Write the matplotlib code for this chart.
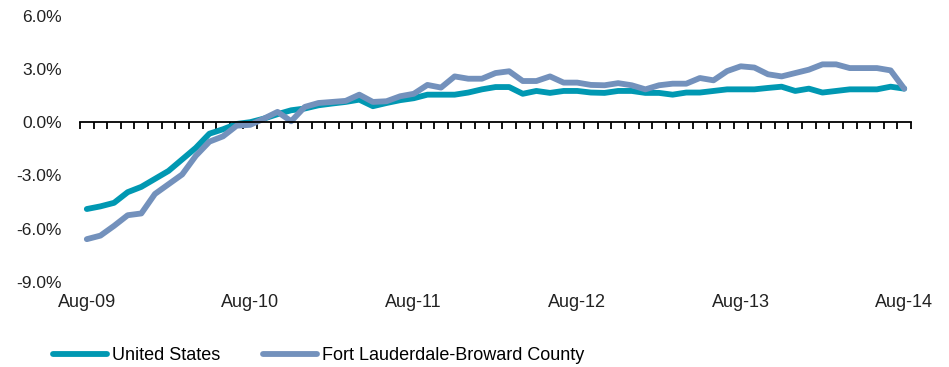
import matplotlib.pyplot as plt
import numpy as np

plt.rcParams['font.family'] = ['Liberation Sans', 'DejaVu Sans']

# monthly year-over-year employment growth, Aug-09 .. Aug-14 (%)
us = [-4.9, -4.75, -4.55, -3.95, -3.65, -3.2, -2.75, -2.1, -1.45, -0.65, -0.4, -0.1, 0.0,
      0.2, 0.45, 0.67, 0.77, 0.95, 1.05, 1.14, 1.27, 0.9, 1.08, 1.24, 1.35,
      1.55, 1.55, 1.55, 1.67, 1.85, 1.98, 1.98, 1.6, 1.76, 1.65, 1.76, 1.76, 1.67,
      1.65, 1.76, 1.76, 1.65, 1.65, 1.55, 1.67, 1.67, 1.76, 1.85, 1.85, 1.85,
      1.93, 2.0, 1.76, 1.89, 1.67, 1.76, 1.85, 1.85, 1.85, 2.0, 1.89]
fl = [-6.6, -6.4, -5.85, -5.25, -5.15, -4.05, -3.5, -2.95, -1.9, -1.1, -0.8, -0.2, -0.15,
      0.2, 0.58, 0.05, 0.86, 1.08, 1.14, 1.2, 1.55, 1.14, 1.18, 1.46, 1.6,
      2.1, 1.95, 2.58, 2.45, 2.45, 2.77, 2.87, 2.32, 2.32, 2.58, 2.23, 2.23, 2.1,
      2.08, 2.2, 2.08, 1.85, 2.08, 2.17, 2.17, 2.49, 2.36, 2.88, 3.15, 3.08,
      2.7, 2.58, 2.77, 2.96, 3.26, 3.26, 3.05, 3.05, 3.05, 2.92, 1.89]
tick_labels = ['Aug-09', 'Aug-10', 'Aug-11', 'Aug-12', 'Aug-13', 'Aug-14']
y_ticks = [-9, -6, -3, 0, 3, 6]

us_color = '#0098B2'
fl_color = '#7391BC'

x = np.arange(len(us))

fig = plt.figure(figsize=(9.49, 3.67), dpi=100)
ax = fig.add_axes([0.0843, 0.2324, 0.8757, 0.7246])

ax.plot(x, us, color=us_color, lw=4.2, solid_joinstyle='round', solid_capstyle='round',
        label='United States')
ax.plot(x, fl, color=fl_color, lw=4.2, solid_joinstyle='round', solid_capstyle='round',
        label='Fort Lauderdale-Broward County')

ax.set_xlim(-0.5, len(us) - 0.5)
ax.set_ylim(-9, 6)
ax.set_yticks(y_ticks)
ax.set_yticklabels([f'{v:.1f}%' for v in y_ticks], fontsize=12.5, color='#222222')
ax.tick_params(axis='y', length=0, pad=13)

# category axis sitting on zero, tick marks between months
for s in ['top', 'right', 'left']:
    ax.spines[s].set_visible(False)
ax.spines['bottom'].set_position(('data', 0))
ax.spines['bottom'].set_linewidth(1.3)
ax.set_xticks(np.arange(-0.5, len(us), 1.0))
ax.set_xticklabels([])
ax.tick_params(axis='x', direction='out', length=5, width=1.3)

for i, lab in enumerate(tick_labels):
    ax.text(i * 12, -0.079, lab, transform=ax.get_xaxis_transform(),
            ha='center', va='center', fontsize=13, color='#222222')

fig.legend(loc='center left', bbox_to_anchor=(0.0558, 0.030), ncol=2, frameon=False,
           fontsize=13, handlelength=3.0, handletextpad=0.25, columnspacing=2.4,
           borderpad=0, borderaxespad=0)

fig.savefig('out.png', dpi=100)
